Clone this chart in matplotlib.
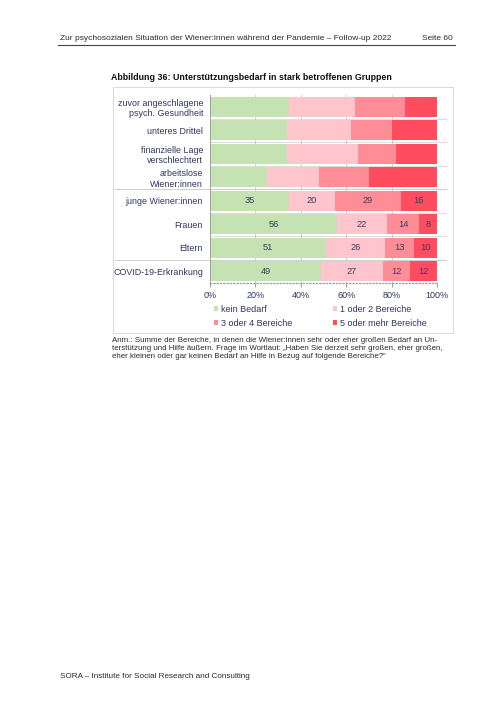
import matplotlib.pyplot as plt
from matplotlib.patches import Rectangle
from matplotlib.lines import Line2D
import numpy as np

plt.rcParams['font.family'] = ['Liberation Sans', 'DejaVu Sans']

categories = ['zuvor angeschlagene\npsych. Gesundheit', 'unteres Drittel',
              'finanzielle Lage\nverschlechtert', 'arbeitslose\nWiener:innen',
              'junge Wiener:innen', 'Frauen', 'Eltern', 'COVID-19-Erkrankung']
kein_bedarf = [35, 34, 34, 25, 35, 56, 51, 49]
ein_zwei = [29, 28, 31, 23, 20, 22, 26, 27]
drei_vier = [22, 18, 17, 22, 29, 14, 13, 12]
fuenf_mehr = [14, 20, 18, 30, 16, 8, 10, 12]
show_values = [False, False, False, False, True, True, True, True]
series_names = ['kein Bedarf', '1 oder 2 Bereiche', '3 oder 4 Bereiche', '5 oder mehr Bereiche']
colors = ['#c5e2b3', '#ffc5cd', '#ff8d98', '#ff4d5f']
ticks = [0, 20, 40, 60, 80, 100]

W, H = 504, 712
fig = plt.figure(figsize=(W / 100, H / 100), dpi=100)


def fx(px):
    return px / W


def fy(py):
    return 1 - py / H


txt = '#2b2b2b'
lab = '#2e3563'

# page header / footer
fig.text(fx(60), fy(38), 'Zur psychosozialen Situation der Wiener:innen während der Pandemie – Follow-up 2022',
         fontsize=6.0, color=txt, va='center')
fig.text(fx(453), fy(38), 'Seite 60', fontsize=6.0, color=txt, va='center', ha='right')
fig.add_artist(Line2D([fx(58), fx(455)], [fy(45), fy(45)], color='#444444', lw=0.8))
fig.text(fx(111), fy(77), 'Abbildung 36: Unterstützungsbedarf in stark betroffenen Gruppen',
         fontsize=6.4, fontweight='bold', color='#111111', va='center')
fig.text(fx(60), fy(676), 'SORA – Institute for Social Research and Consulting',
         fontsize=5.9, color=txt, va='center')

# chart frame
fig.add_artist(Rectangle((fx(113), fy(333)), fx(453) - fx(113), fy(87) - fy(333),
                         transform=fig.transFigure, fill=False, edgecolor='#dcdcdc', lw=0.8))

ax = fig.add_axes([fx(210), fy(283), fx(437) - fx(210), fy(95) - fy(283)])
y = np.arange(len(categories))
data = [kein_bedarf, ein_zwei, drei_vier, fuenf_mehr]
left = np.zeros(len(categories))
handles = []
for vals, col, name in zip(data, colors, series_names):
    vals = np.array(vals)
    bars = ax.barh(y, vals, left=left, color=col, height=0.86, label=name, zorder=2)
    handles.append(bars)
    for i, (b, v) in enumerate(zip(bars, vals)):
        if show_values[i]:
            ax.text(left[i] + v / 2, y[i], f'{v}', ha='center', va='center',
                    fontsize=6.7, color='#3a3d5c', zorder=3)
    left += vals

ax.set_xlim(0, 100)
ax.set_ylim(len(categories) - 0.5, -0.5)
ax.set_xticks(ticks)
ax.set_xticklabels([f'{t}%' for t in ticks], fontsize=6.5, color=lab)
ax.set_yticks(y)
ax.set_yticklabels(categories, fontsize=6.4, color=lab, linespacing=1.2)
ax.tick_params(axis='y', length=0, pad=5)
ax.tick_params(axis='x', length=3, color='#a0a0a0', pad=3)
ax.xaxis.grid(True, color='#c8c8c8', lw=0.6, zorder=0)
for s in ['top', 'right']:
    ax.spines[s].set_visible(False)
ax.spines['left'].set_color('#a0a0a0')
ax.spines['left'].set_linewidth(0.7)
ax.spines['bottom'].set_color('#a0a0a0')
ax.spines['bottom'].set_linestyle(':')
ax.spines['bottom'].set_linewidth(0.9)

# separators between rows
for b in np.arange(0.5, len(categories) - 1, 1):
    ax.plot([0, 104], [b, b], color='#d8d8d8', lw=0.6, zorder=1, clip_on=False)
for b in [3.5, 6.5]:
    ax.plot([-42, 104], [b, b], color='#d0d0d0', lw=0.7, zorder=1, clip_on=False)

# legend row-wise: kein Bedarf | 1 oder 2 / 3 oder 4 | 5 oder mehr
order = [0, 2, 1, 3]
leg = fig.legend([handles[i] for i in order], [series_names[i] for i in order],
                 loc='upper left', bbox_to_anchor=(fx(206), fy(297)), ncol=2,
                 frameon=False, fontsize=6.5, handlelength=0.45, handleheight=0.45,
                 handletextpad=0.3, columnspacing=4.5, labelspacing=0.55,
                 labelcolor=lab)

note = ('Anm.: Summe der Bereiche, in denen die Wiener:innen sehr oder eher großen Bedarf an Un-\n'
        'terstützung und Hilfe äußern. Frage im Wortlaut: „Haben Sie derzeit sehr großen, eher großen,\n'
        'eher kleinen oder gar keinen Bedarf an Hilfe in Bezug auf folgende Bereiche?“')
fig.text(fx(112), fy(337), note, fontsize=5.7, color=txt, va='top', linespacing=1.2)

fig.savefig('out.png', dpi=100)
